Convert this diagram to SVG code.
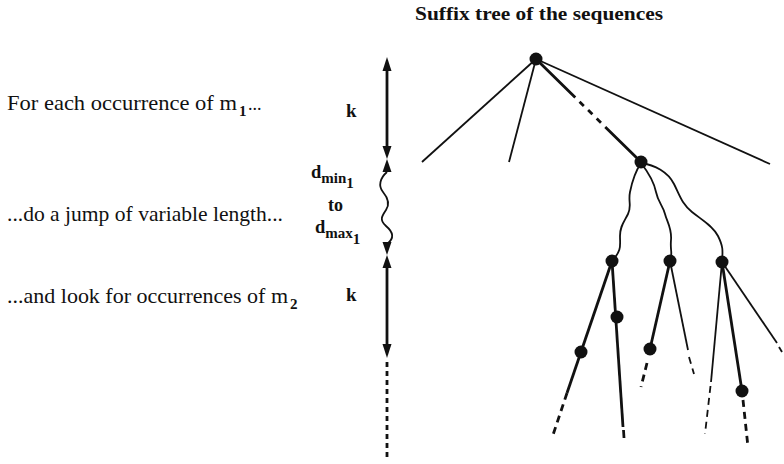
<svg xmlns="http://www.w3.org/2000/svg" width="784" height="464" viewBox="0 0 784 464">
<style>
.t{font-family:"Liberation Serif","Times New Roman",serif;fill:#111;}
.b{font-weight:bold;}
.thin{stroke:#111;stroke-width:1.8;fill:none;stroke-linecap:butt;}
.thick{stroke:#111;stroke-width:2.8;fill:none;stroke-linecap:butt;}
.dash{stroke-dasharray:7 5;}
.node{fill:#111;}
.ah{fill:#111;stroke:none;}
</style>
<rect width="784" height="464" fill="#fff"/>

<text class="t b" x="415" y="20" font-size="18.5" textLength="248" lengthAdjust="spacingAndGlyphs">Suffix tree of the sequences</text>

<g id="labels">
<text class="t" x="7" y="110" font-size="21" textLength="230" lengthAdjust="spacingAndGlyphs">For each occurrence of m</text>
<text class="t b" x="239" y="116" font-size="15">1</text>
<text class="t" x="248" y="110" font-size="18">...</text>
<text class="t" x="7" y="221" font-size="21" textLength="276" lengthAdjust="spacingAndGlyphs">...do a jump of variable length...</text>
<text class="t" x="7" y="303" font-size="21" textLength="281" lengthAdjust="spacingAndGlyphs">...and look for occurrences of m</text>
<text class="t b" x="290" y="309" font-size="15">2</text>
<text class="t b" x="346" y="117" font-size="19">k</text>
<text class="t b" x="346" y="301" font-size="19">k</text>
<text class="t b" x="311" y="178" font-size="18.5">d<tspan font-size="15" dy="5">min</tspan><tspan font-size="15" dy="5">1</tspan></text>
<text class="t b" x="328" y="211" font-size="18">to</text>
<text class="t b" x="315" y="233" font-size="18.5">d<tspan font-size="15" dy="5">max</tspan><tspan font-size="15" dy="6">1</tspan></text>
</g>

<g id="axis">
<line class="thick" x1="387" y1="68" x2="387" y2="148"/>
<polygon class="ah" points="387,57 382.5,71 391.5,71"/>
<polygon class="ah" points="387,159 382.5,146 391.5,146"/>
<polygon class="ah" points="387,159 382.5,172 391.5,172"/>
<path class="thin" d="M387,172 C380,178 378,186 383,192 S390,204 386,210 S379,220 386,226 S395,238 387,244"/>
<polygon class="ah" points="387,255 382.5,242 391.5,242"/>
<polygon class="ah" points="387,255 382.5,268 391.5,268"/>
<line class="thick" x1="387" y1="266" x2="387" y2="347"/>
<polygon class="ah" points="387,358 382.5,344 391.5,344"/>
<line class="thick" x1="387" y1="362" x2="387" y2="458" stroke-dasharray="5 4"/>
</g>

<g id="connectors">
<line class="thin" x1="536" y1="59" x2="422" y2="162"/>
<line class="thin" x1="536" y1="59" x2="509" y2="162"/>
<line class="thin" x1="536" y1="59" x2="770" y2="164"/>
<line class="thick" x1="536" y1="59" x2="641" y2="162" stroke-dasharray="55 6 6 6 6 6 6 6 100"/>
<path class="thin" d="M641,163 C635,172 632,182 630,192 S632,206 628,214 S620,226 620,236 S622,250 612,261"/>
<path class="thin" d="M641,163 C648,172 654,182 656,192 S663,206 665,214 S672,228 671,240 S673,252 670,261"/>
<path class="thin" d="M641,163 C655,165 668,172 674,184 S682,204 692,212 S713,226 718,236 S723,250 722,262"/>
<line class="thick" x1="612" y1="261" x2="567" y2="393"/>
<line class="thick dash" x1="567" y1="393" x2="552" y2="438"/>
<line class="thick" x1="612" y1="261" x2="623" y2="427"/>
<line class="thick" x1="623.5" y1="430" x2="624" y2="438"/>
<line class="thick" x1="670" y1="261" x2="650" y2="349"/>
<line class="thick dash" x1="647" y1="363" x2="641" y2="387"/>
<line class="thin" x1="670" y1="261" x2="688" y2="350"/>
<line class="thin dash" x1="689" y1="357" x2="694" y2="374"/>
<line class="thin" x1="722" y1="262" x2="711" y2="382"/>
<line class="thin dash" x1="710.5" y1="386" x2="705" y2="434"/>
<line class="thick" x1="722" y1="262" x2="742" y2="391"/>
<line class="thick dash" x1="743" y1="400" x2="748" y2="447"/>
<line class="thin" x1="722" y1="262" x2="777" y2="343"/>
<line class="thin" x1="779" y1="347" x2="782" y2="352"/>
</g>

<g id="root"><circle class="node" cx="536" cy="59" r="6.5"/></g>
<g id="n_a"><circle class="node" cx="641" cy="162" r="6.5"/></g>
<g id="n1"><circle class="node" cx="612" cy="261" r="6.5"/></g>
<g id="n2"><circle class="node" cx="670" cy="261" r="6.5"/></g>
<g id="n3"><circle class="node" cx="722" cy="262" r="6.5"/></g>
<g id="n4"><circle class="node" cx="617" cy="317" r="6.5"/></g>
<g id="n5"><circle class="node" cx="581" cy="352" r="6.5"/></g>
<g id="n6"><circle class="node" cx="650" cy="349" r="6.5"/></g>
<g id="n7"><circle class="node" cx="742" cy="391" r="6.5"/></g>
</svg>
